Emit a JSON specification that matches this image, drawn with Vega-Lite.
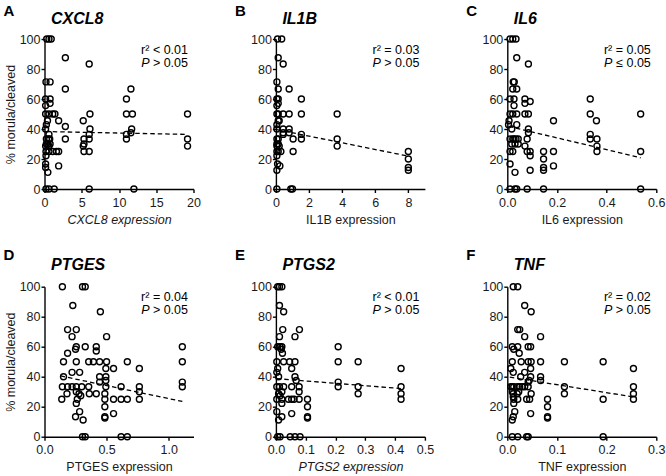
{
"$schema":"https://vega.github.io/schema/vega-lite/v6.json",
"padding":{"left":3.5,"top":3,"right":0,"bottom":0},
"config":{"view":{"stroke":null},"font":"Liberation Sans",
"axis":{"domainColor":"#000","domainWidth":1.4,"tickColor":"#000","tickWidth":1.4,"tickSize":3.5,"labelFontSize":12.5,"labelColor":"#1a1a1a","labelPadding":2,"titleFontSize":12.5,"titleFontWeight":"normal","titleColor":"#1a1a1a","grid":false,"labelOverlap":false,"labelFlush":false},
"axisX":{"titlePadding":4.5,"labelPadding":3.5},"axisY":{"titlePadding":2,"labelPadding":1},
"title":{"anchor":"start","frame":"group","dx":6.5,"baseline":"alphabetic","fontSize":16,"fontWeight":"bold","fontStyle":"italic","color":"#000"},
"point":{"shape":"circle","filled":false,"color":"#000","strokeWidth":1.4,"size":36,"opacity":1},
"line":{"color":"#000","strokeWidth":1.3,"strokeDash":[4.5,3]},
"text":{"color":"#000","baseline":"alphabetic"}},
"datasets":{
"a":[{"x":0.3,"y":100},{"x":0.6,"y":100},{"x":0.9,"y":100},{"x":0.2,"y":71.4},{"x":0.75,"y":71.4},{"x":0.15,"y":60},{"x":0.75,"y":60},{"x":0.75,"y":57.1},{"x":0.15,"y":55.6},{"x":0.15,"y":50},{"x":0.6,"y":50},{"x":1.1,"y":50},{"x":1.4,"y":50},{"x":0.4,"y":45.5},{"x":1.9,"y":45.5},{"x":0.25,"y":42.9},{"x":0.15,"y":40},{"x":0.6,"y":36.4},{"x":0.25,"y":33.3},{"x":0.55,"y":33.3},{"x":0.7,"y":33.3},{"x":0.25,"y":30},{"x":0.45,"y":30},{"x":0.75,"y":30},{"x":0.15,"y":28.6},{"x":0.6,"y":28.6},{"x":0.2,"y":25},{"x":0.6,"y":25},{"x":1.1,"y":25},{"x":1.6,"y":25},{"x":1.9,"y":25},{"x":0.2,"y":22.2},{"x":0.15,"y":16.7},{"x":0.15,"y":14.3},{"x":0.45,"y":11.1},{"x":1.9,"y":15.4},{"x":0.2,"y":0},{"x":0.6,"y":0},{"x":1.3,"y":0},{"x":2.8,"y":87.5},{"x":2.8,"y":66.7},{"x":2.8,"y":41.7},{"x":2.8,"y":33.3},{"x":5.2,"y":45.5},{"x":5.3,"y":33.3},{"x":5.3,"y":30},{"x":5.2,"y":28.6},{"x":5.3,"y":25},{"x":6.0,"y":83.3},{"x":6.1,"y":50},{"x":6.1,"y":40},{"x":6.0,"y":36.4},{"x":6.0,"y":33.3},{"x":6.0,"y":25},{"x":6.0,"y":0},{"x":11.0,"y":60},{"x":11.0,"y":50},{"x":11.0,"y":36.4},{"x":11.0,"y":33.3},{"x":11.6,"y":66.7},{"x":11.8,"y":50},{"x":11.7,"y":40},{"x":11.6,"y":37.5},{"x":12.0,"y":0},{"x":19.2,"y":50},{"x":19.2,"y":33.3},{"x":19.2,"y":28.6}],
"b":[{"x":0.1,"y":100},{"x":0.35,"y":100},{"x":0.14,"y":87.5},{"x":0.44,"y":83.3},{"x":0.06,"y":71.4},{"x":0.14,"y":66.7},{"x":0.8,"y":66.7},{"x":0.06,"y":60},{"x":0.14,"y":60},{"x":1.54,"y":60},{"x":0.14,"y":57.1},{"x":0.06,"y":55.6},{"x":0.06,"y":50},{"x":0.14,"y":50},{"x":0.44,"y":50},{"x":0.8,"y":50},{"x":1.54,"y":50},{"x":3.7,"y":50},{"x":0.14,"y":45.5},{"x":0.2,"y":45.5},{"x":0.06,"y":42.9},{"x":0.06,"y":40},{"x":0.44,"y":40},{"x":0.8,"y":40},{"x":0.44,"y":37.5},{"x":0.8,"y":37.5},{"x":0.44,"y":36.4},{"x":1.54,"y":36.4},{"x":0.06,"y":33.3},{"x":0.14,"y":33.3},{"x":1.04,"y":33.3},{"x":1.54,"y":33.3},{"x":3.7,"y":33.3},{"x":0.06,"y":30},{"x":0.14,"y":30},{"x":0.06,"y":28.6},{"x":0.2,"y":28.6},{"x":3.7,"y":28.6},{"x":0.06,"y":25},{"x":0.14,"y":25},{"x":0.3,"y":25},{"x":1.04,"y":25},{"x":8.0,"y":25},{"x":8.0,"y":20},{"x":8.0,"y":14.3},{"x":8.0,"y":12.5},{"x":0.06,"y":22.2},{"x":0.1,"y":16.7},{"x":0.24,"y":15.4},{"x":0.06,"y":12.5},{"x":0.06,"y":0},{"x":0.9,"y":0},{"x":1.0,"y":0}],
"c":[{"x":0.011,"y":100},{"x":0.022,"y":100},{"x":0.035,"y":100},{"x":0.038,"y":87.5},{"x":0.085,"y":83.3},{"x":0.024,"y":71.4},{"x":0.028,"y":71.4},{"x":0.022,"y":66.7},{"x":0.038,"y":66.7},{"x":0.011,"y":60},{"x":0.027,"y":60},{"x":0.071,"y":60},{"x":0.071,"y":57.1},{"x":0.092,"y":58.3},{"x":0.027,"y":55.6},{"x":0.011,"y":50},{"x":0.022,"y":50},{"x":0.038,"y":50},{"x":0.071,"y":50},{"x":0.085,"y":50},{"x":0.334,"y":50},{"x":0.334,"y":60},{"x":0.186,"y":45.5},{"x":0.359,"y":45.5},{"x":0.007,"y":45.5},{"x":0.005,"y":42.9},{"x":0.038,"y":42.9},{"x":0.018,"y":40},{"x":0.085,"y":40},{"x":0.085,"y":37.5},{"x":0.334,"y":36.4},{"x":0.011,"y":33.3},{"x":0.022,"y":33.3},{"x":0.027,"y":33.3},{"x":0.035,"y":33.3},{"x":0.044,"y":33.3},{"x":0.08,"y":33.3},{"x":0.334,"y":33.3},{"x":0.361,"y":33.3},{"x":0.018,"y":30},{"x":0.031,"y":30},{"x":0.044,"y":30},{"x":0.071,"y":28.6},{"x":0.361,"y":28.6},{"x":0.011,"y":25},{"x":0.022,"y":25},{"x":0.08,"y":25},{"x":0.092,"y":25},{"x":0.146,"y":25},{"x":0.186,"y":25},{"x":0.361,"y":25},{"x":0.537,"y":50},{"x":0.537,"y":25},{"x":0.537,"y":0},{"x":0.092,"y":22.2},{"x":0.146,"y":20},{"x":0.011,"y":16.7},{"x":0.186,"y":15.4},{"x":0.146,"y":14.3},{"x":0.092,"y":12.5},{"x":0.146,"y":12.5},{"x":0.031,"y":11.1},{"x":0.011,"y":0},{"x":0.031,"y":0},{"x":0.038,"y":0},{"x":0.08,"y":0},{"x":0.146,"y":0}],
"d":[{"x":0.144,"y":100},{"x":0.306,"y":100},{"x":0.328,"y":100},{"x":0.228,"y":87.5},{"x":0.45,"y":83.3},{"x":0.186,"y":71.4},{"x":0.256,"y":71.4},{"x":0.222,"y":66.7},{"x":0.5,"y":66.7},{"x":0.256,"y":60},{"x":0.328,"y":60},{"x":0.417,"y":60},{"x":1.11,"y":60},{"x":0.25,"y":58.3},{"x":0.417,"y":57.1},{"x":0.186,"y":55.6},{"x":0.153,"y":50},{"x":0.256,"y":50},{"x":0.356,"y":50},{"x":0.394,"y":50},{"x":0.444,"y":50},{"x":0.5,"y":50},{"x":0.667,"y":50},{"x":1.11,"y":50},{"x":0.494,"y":45.5},{"x":0.556,"y":45.5},{"x":0.764,"y":45.5},{"x":0.222,"y":42.9},{"x":0.283,"y":42.9},{"x":0.153,"y":40},{"x":0.444,"y":40},{"x":0.494,"y":40},{"x":0.494,"y":37.5},{"x":0.444,"y":36.4},{"x":1.11,"y":36.4},{"x":0.144,"y":33.3},{"x":0.186,"y":33.3},{"x":0.222,"y":33.3},{"x":0.256,"y":33.3},{"x":0.3,"y":33.3},{"x":0.356,"y":33.3},{"x":0.494,"y":33.3},{"x":0.617,"y":33.3},{"x":0.764,"y":33.3},{"x":1.11,"y":33.3},{"x":0.256,"y":30},{"x":0.764,"y":30},{"x":0.181,"y":28.6},{"x":0.278,"y":28.6},{"x":0.361,"y":28.6},{"x":0.417,"y":28.6},{"x":0.486,"y":28.6},{"x":0.292,"y":27.3},{"x":0.139,"y":25},{"x":0.264,"y":25},{"x":0.486,"y":25},{"x":0.556,"y":25},{"x":0.617,"y":25},{"x":0.667,"y":25},{"x":0.764,"y":25},{"x":0.256,"y":22.2},{"x":0.486,"y":20},{"x":0.283,"y":16.7},{"x":0.556,"y":15.4},{"x":0.25,"y":13.3},{"x":0.486,"y":13.3},{"x":0.486,"y":12.5},{"x":0.311,"y":11.1},{"x":0.306,"y":0},{"x":0.328,"y":0},{"x":0.617,"y":0},{"x":0.667,"y":0}],
"e":[{"x":0.006,"y":100},{"x":0.012,"y":100},{"x":0.02,"y":100},{"x":0.012,"y":87.5},{"x":0.026,"y":83.3},{"x":0.023,"y":71.4},{"x":0.079,"y":71.4},{"x":0.012,"y":66.7},{"x":0.064,"y":66.7},{"x":0.006,"y":60},{"x":0.014,"y":60},{"x":0.02,"y":60},{"x":0.209,"y":60},{"x":0.018,"y":58.3},{"x":0.022,"y":55.6},{"x":0.003,"y":50},{"x":0.026,"y":50},{"x":0.046,"y":50},{"x":0.064,"y":50},{"x":0.209,"y":50},{"x":0.276,"y":50},{"x":0.006,"y":45.5},{"x":0.053,"y":45.5},{"x":0.42,"y":45.5},{"x":0.003,"y":42.9},{"x":0.009,"y":40},{"x":0.064,"y":40},{"x":0.068,"y":37.5},{"x":0.209,"y":36.4},{"x":0.003,"y":33.3},{"x":0.012,"y":33.3},{"x":0.026,"y":33.3},{"x":0.053,"y":33.3},{"x":0.078,"y":33.3},{"x":0.209,"y":33.3},{"x":0.276,"y":33.3},{"x":0.42,"y":33.3},{"x":0.02,"y":30},{"x":0.078,"y":30},{"x":0.009,"y":28.6},{"x":0.276,"y":28.6},{"x":0.42,"y":28.6},{"x":0.014,"y":27.3},{"x":0.003,"y":25},{"x":0.02,"y":25},{"x":0.042,"y":25},{"x":0.053,"y":25},{"x":0.061,"y":25},{"x":0.078,"y":25},{"x":0.106,"y":25},{"x":0.42,"y":25},{"x":0.02,"y":22.2},{"x":0.106,"y":20},{"x":0.003,"y":16.7},{"x":0.053,"y":15.4},{"x":0.02,"y":13.3},{"x":0.106,"y":13.3},{"x":0.106,"y":12.5},{"x":0.009,"y":11.1},{"x":0.006,"y":0},{"x":0.014,"y":0},{"x":0.048,"y":0},{"x":0.064,"y":0},{"x":0.081,"y":0}],
"f":[{"x":0.012,"y":100},{"x":0.021,"y":100},{"x":0.035,"y":87.5},{"x":0.048,"y":83.3},{"x":0.021,"y":71.4},{"x":0.025,"y":71.4},{"x":0.035,"y":66.7},{"x":0.067,"y":66.7},{"x":0.01,"y":60},{"x":0.021,"y":60},{"x":0.042,"y":60},{"x":0.047,"y":60},{"x":0.013,"y":58.3},{"x":0.024,"y":55.6},{"x":0.01,"y":50},{"x":0.028,"y":50},{"x":0.042,"y":50},{"x":0.048,"y":50},{"x":0.067,"y":50},{"x":0.115,"y":50},{"x":0.193,"y":50},{"x":0.007,"y":45.5},{"x":0.047,"y":45.5},{"x":0.254,"y":45.5},{"x":0.012,"y":42.9},{"x":0.035,"y":42.9},{"x":0.027,"y":40},{"x":0.047,"y":40},{"x":0.067,"y":40},{"x":0.067,"y":37.5},{"x":0.044,"y":37.5},{"x":0.042,"y":36.4},{"x":0.007,"y":33.3},{"x":0.01,"y":33.3},{"x":0.013,"y":33.3},{"x":0.02,"y":33.3},{"x":0.025,"y":33.3},{"x":0.03,"y":33.3},{"x":0.035,"y":33.3},{"x":0.042,"y":33.3},{"x":0.115,"y":33.3},{"x":0.254,"y":33.3},{"x":0.01,"y":30},{"x":0.023,"y":30},{"x":0.012,"y":28.6},{"x":0.02,"y":28.6},{"x":0.048,"y":28.6},{"x":0.115,"y":28.6},{"x":0.254,"y":28.6},{"x":0.012,"y":26.7},{"x":0.013,"y":25},{"x":0.021,"y":25},{"x":0.039,"y":25},{"x":0.045,"y":25},{"x":0.081,"y":25},{"x":0.193,"y":25},{"x":0.254,"y":25},{"x":0.013,"y":22.2},{"x":0.081,"y":20},{"x":0.015,"y":16.7},{"x":0.047,"y":15.4},{"x":0.012,"y":13.3},{"x":0.081,"y":13.3},{"x":0.081,"y":12.5},{"x":0.01,"y":11.1},{"x":0.01,"y":0},{"x":0.021,"y":0},{"x":0.039,"y":0},{"x":0.042,"y":0},{"x":0.193,"y":0}],
"a_fit":[{"x":0.1,"y":38.3},{"x":19.2,"y":36.4}],
"b_fit":[{"x":0.05,"y":39.6},{"x":8,"y":21.9}],
"c_fit":[{"x":0.005,"y":41.8},{"x":0.537,"y":20.8}],
"d_fit":[{"x":0.13,"y":40.5},{"x":1.11,"y":23.5}],
"e_fit":[{"x":0.003,"y":38.7},{"x":0.42,"y":32.1}],
"f_fit":[{"x":0.005,"y":39.7},{"x":0.254,"y":26.5}],
"notes":[{"panel":"A","letter":"A","r2":"r² < 0.01","p":"> 0.05"},{"panel":"B","letter":"B","r2":"r² = 0.03","p":"> 0.05"},{"panel":"C","letter":"C","r2":"r² = 0.05","p":"≤ 0.05"},{"panel":"D","letter":"D","r2":"r² = 0.04","p":"> 0.05"},{"panel":"E","letter":"E","r2":"r² < 0.01","p":"> 0.05"},{"panel":"F","letter":"F","r2":"r² = 0.02","p":"> 0.05"}]
},
"columns":3,
"spacing":{"row":97.7,"column":82.4},
"bounds":"flush",
"concat":[
{"width":149,"height":150,"title":{"text":"CXCL8","offset":-23},"layer":[
 {"data":{"name":"a"},"mark":"point","encoding":{"x":{"field":"x","type":"quantitative","scale":{"domain":[0,20],"nice":false},"axis":{"values":[0,5,10,15,20],"labelOverlap":false,"labelFlush":false,"title":"CXCL8 expression","titleFontStyle":"italic"}},"y":{"field":"y","type":"quantitative","scale":{"domain":[0,100],"nice":false},"axis":{"values":[0,20,40,60,80,100],"labelOverlap":false,"labelFlush":false,"title":"% morula/cleaved"}}}},
 {"data":{"name":"a_fit"},"mark":"line","encoding":{"x":{"field":"x","type":"quantitative","axis":{"values":[0,5,10,15,20],"labelOverlap":false,"labelFlush":false,"title":"CXCL8 expression","titleFontStyle":"italic"}},"y":{"field":"y","type":"quantitative","axis":{"values":[0,20,40,60,80,100],"labelOverlap":false,"labelFlush":false,"title":"% morula/cleaved"}}}},
 {"data":{"name":"notes"},"transform":[{"filter":"datum.panel === 'A'"}],"encoding":{"x":{"datum":20,"type":"quantitative","axis":{"values":[0,5,10,15,20],"labelOverlap":false,"labelFlush":false,"title":"CXCL8 expression","titleFontStyle":"italic"}},"y":{"datum":100,"type":"quantitative","axis":{"values":[0,20,40,60,80,100],"labelOverlap":false,"labelFlush":false,"title":"% morula/cleaved"}}},"layer":[
  {"mark":{"type":"text","align":"left","dx":-190,"dy":-23.3,"fontSize":15,"fontWeight":"bold"},"encoding":{"text":{"field":"letter"}}},
  {"mark":{"type":"text","align":"right","dx":-5.5,"dy":14.5,"fontSize":12.5},"encoding":{"text":{"field":"r2"}}},
  {"mark":{"type":"text","align":"right","dx":-5.5,"dy":27.5,"fontSize":12.5},"encoding":{"text":{"field":"p"}}},
  {"mark":{"type":"text","text":"P","fontStyle":"italic","align":"right","dx":-44,"dy":27.5,"fontSize":12.5}}
 ]}
]},
{"width":149,"height":150,"title":{"text":"IL1B","offset":-23},"layer":[
 {"data":{"name":"b"},"mark":"point","encoding":{"x":{"field":"x","type":"quantitative","scale":{"domain":[0,9],"nice":false},"axis":{"values":[0,2,4,6,8],"labelOverlap":false,"labelFlush":false,"title":"IL1B expression"}},"y":{"field":"y","type":"quantitative","scale":{"domain":[0,100],"nice":false},"axis":{"values":[0,20,40,60,80,100],"labelOverlap":false,"labelFlush":false,"title":null}}}},
 {"data":{"name":"b_fit"},"mark":"line","encoding":{"x":{"field":"x","type":"quantitative","axis":{"values":[0,2,4,6,8],"labelOverlap":false,"labelFlush":false,"title":"IL1B expression"}},"y":{"field":"y","type":"quantitative","axis":{"values":[0,20,40,60,80,100],"labelOverlap":false,"labelFlush":false,"title":null}}}},
 {"data":{"name":"notes"},"transform":[{"filter":"datum.panel === 'B'"}],"encoding":{"x":{"datum":9,"type":"quantitative","axis":{"values":[0,2,4,6,8],"labelOverlap":false,"labelFlush":false,"title":"IL1B expression"}},"y":{"datum":100,"type":"quantitative","axis":{"values":[0,20,40,60,80,100],"labelOverlap":false,"labelFlush":false,"title":null}}},"layer":[
  {"mark":{"type":"text","align":"left","dx":-190,"dy":-23.3,"fontSize":15,"fontWeight":"bold"},"encoding":{"text":{"field":"letter"}}},
  {"mark":{"type":"text","align":"right","dx":-5.5,"dy":14.5,"fontSize":12.5},"encoding":{"text":{"field":"r2"}}},
  {"mark":{"type":"text","align":"right","dx":-5.5,"dy":27.5,"fontSize":12.5},"encoding":{"text":{"field":"p"}}},
  {"mark":{"type":"text","text":"P","fontStyle":"italic","align":"right","dx":-44,"dy":27.5,"fontSize":12.5}}
 ]}
]},
{"width":149,"height":150,"title":{"text":"IL6","offset":-23},"layer":[
 {"data":{"name":"c"},"mark":"point","encoding":{"x":{"field":"x","type":"quantitative","scale":{"domain":[0,0.6],"nice":false},"axis":{"values":[0,0.2,0.4,0.6],"format":".1f","labelOverlap":false,"labelFlush":false,"title":"IL6 expression"}},"y":{"field":"y","type":"quantitative","scale":{"domain":[0,100],"nice":false},"axis":{"values":[0,20,40,60,80,100],"labelOverlap":false,"labelFlush":false,"title":null}}}},
 {"data":{"name":"c_fit"},"mark":"line","encoding":{"x":{"field":"x","type":"quantitative","axis":{"values":[0,0.2,0.4,0.6],"format":".1f","labelOverlap":false,"labelFlush":false,"title":"IL6 expression"}},"y":{"field":"y","type":"quantitative","axis":{"values":[0,20,40,60,80,100],"labelOverlap":false,"labelFlush":false,"title":null}}}},
 {"data":{"name":"notes"},"transform":[{"filter":"datum.panel === 'C'"}],"encoding":{"x":{"datum":0.6,"type":"quantitative","axis":{"values":[0,0.2,0.4,0.6],"format":".1f","labelOverlap":false,"labelFlush":false,"title":"IL6 expression"}},"y":{"datum":100,"type":"quantitative","axis":{"values":[0,20,40,60,80,100],"labelOverlap":false,"labelFlush":false,"title":null}}},"layer":[
  {"mark":{"type":"text","align":"left","dx":-190,"dy":-23.3,"fontSize":15,"fontWeight":"bold"},"encoding":{"text":{"field":"letter"}}},
  {"mark":{"type":"text","align":"right","dx":-5.5,"dy":14.5,"fontSize":12.5},"encoding":{"text":{"field":"r2"}}},
  {"mark":{"type":"text","align":"right","dx":-5.5,"dy":27.5,"fontSize":12.5},"encoding":{"text":{"field":"p"}}},
  {"mark":{"type":"text","text":"P","fontStyle":"italic","align":"right","dx":-44,"dy":27.5,"fontSize":12.5}}
 ]}
]},
{"width":149,"height":150,"title":{"text":"PTGES","offset":-25.2},"layer":[
 {"data":{"name":"d"},"mark":"point","encoding":{"x":{"field":"x","type":"quantitative","scale":{"domain":[0,1.2],"nice":false},"axis":{"values":[0,0.5,1.0],"format":".1f","labelOverlap":false,"labelFlush":false,"title":"PTGES expression"}},"y":{"field":"y","type":"quantitative","scale":{"domain":[0,100],"nice":false},"axis":{"values":[0,20,40,60,80,100],"labelOverlap":false,"labelFlush":false,"title":"% morula/cleaved"}}}},
 {"data":{"name":"d_fit"},"mark":"line","encoding":{"x":{"field":"x","type":"quantitative","axis":{"values":[0,0.5,1.0],"format":".1f","labelOverlap":false,"labelFlush":false,"title":"PTGES expression"}},"y":{"field":"y","type":"quantitative","axis":{"values":[0,20,40,60,80,100],"labelOverlap":false,"labelFlush":false,"title":"% morula/cleaved"}}}},
 {"data":{"name":"notes"},"transform":[{"filter":"datum.panel === 'D'"}],"encoding":{"x":{"datum":1.2,"type":"quantitative","axis":{"values":[0,0.5,1.0],"format":".1f","labelOverlap":false,"labelFlush":false,"title":"PTGES expression"}},"y":{"datum":100,"type":"quantitative","axis":{"values":[0,20,40,60,80,100],"labelOverlap":false,"labelFlush":false,"title":"% morula/cleaved"}}},"layer":[
  {"mark":{"type":"text","align":"left","dx":-190,"dy":-26.5,"fontSize":15,"fontWeight":"bold"},"encoding":{"text":{"field":"letter"}}},
  {"mark":{"type":"text","align":"right","dx":-5.5,"dy":14,"fontSize":12.5},"encoding":{"text":{"field":"r2"}}},
  {"mark":{"type":"text","align":"right","dx":-5.5,"dy":27,"fontSize":12.5},"encoding":{"text":{"field":"p"}}},
  {"mark":{"type":"text","text":"P","fontStyle":"italic","align":"right","dx":-44,"dy":27,"fontSize":12.5}}
 ]}
]},
{"width":149,"height":150,"title":{"text":"PTGS2","offset":-25.2},"layer":[
 {"data":{"name":"e"},"mark":"point","encoding":{"x":{"field":"x","type":"quantitative","scale":{"domain":[0,0.5],"nice":false},"axis":{"values":[0,0.1,0.2,0.3,0.4,0.5],"format":".1f","labelOverlap":false,"labelFlush":false,"title":"PTGS2 expression","titleFontStyle":"italic"}},"y":{"field":"y","type":"quantitative","scale":{"domain":[0,100],"nice":false},"axis":{"values":[0,20,40,60,80,100],"labelOverlap":false,"labelFlush":false,"title":null}}}},
 {"data":{"name":"e_fit"},"mark":"line","encoding":{"x":{"field":"x","type":"quantitative","axis":{"values":[0,0.1,0.2,0.3,0.4,0.5],"format":".1f","labelOverlap":false,"labelFlush":false,"title":"PTGS2 expression","titleFontStyle":"italic"}},"y":{"field":"y","type":"quantitative","axis":{"values":[0,20,40,60,80,100],"labelOverlap":false,"labelFlush":false,"title":null}}}},
 {"data":{"name":"notes"},"transform":[{"filter":"datum.panel === 'E'"}],"encoding":{"x":{"datum":0.5,"type":"quantitative","axis":{"values":[0,0.1,0.2,0.3,0.4,0.5],"format":".1f","labelOverlap":false,"labelFlush":false,"title":"PTGS2 expression","titleFontStyle":"italic"}},"y":{"datum":100,"type":"quantitative","axis":{"values":[0,20,40,60,80,100],"labelOverlap":false,"labelFlush":false,"title":null}}},"layer":[
  {"mark":{"type":"text","align":"left","dx":-190,"dy":-26.5,"fontSize":15,"fontWeight":"bold"},"encoding":{"text":{"field":"letter"}}},
  {"mark":{"type":"text","align":"right","dx":-5.5,"dy":14,"fontSize":12.5},"encoding":{"text":{"field":"r2"}}},
  {"mark":{"type":"text","align":"right","dx":-5.5,"dy":27,"fontSize":12.5},"encoding":{"text":{"field":"p"}}},
  {"mark":{"type":"text","text":"P","fontStyle":"italic","align":"right","dx":-44,"dy":27,"fontSize":12.5}}
 ]}
]},
{"width":149,"height":150,"title":{"text":"TNF","offset":-25.2},"layer":[
 {"data":{"name":"f"},"mark":"point","encoding":{"x":{"field":"x","type":"quantitative","scale":{"domain":[0,0.3],"nice":false},"axis":{"values":[0,0.1,0.2,0.3],"format":".1f","labelOverlap":false,"labelFlush":false,"title":"TNF expression"}},"y":{"field":"y","type":"quantitative","scale":{"domain":[0,100],"nice":false},"axis":{"values":[0,20,40,60,80,100],"labelOverlap":false,"labelFlush":false,"title":null}}}},
 {"data":{"name":"f_fit"},"mark":"line","encoding":{"x":{"field":"x","type":"quantitative","axis":{"values":[0,0.1,0.2,0.3],"format":".1f","labelOverlap":false,"labelFlush":false,"title":"TNF expression"}},"y":{"field":"y","type":"quantitative","axis":{"values":[0,20,40,60,80,100],"labelOverlap":false,"labelFlush":false,"title":null}}}},
 {"data":{"name":"notes"},"transform":[{"filter":"datum.panel === 'F'"}],"encoding":{"x":{"datum":0.3,"type":"quantitative","axis":{"values":[0,0.1,0.2,0.3],"format":".1f","labelOverlap":false,"labelFlush":false,"title":"TNF expression"}},"y":{"datum":100,"type":"quantitative","axis":{"values":[0,20,40,60,80,100],"labelOverlap":false,"labelFlush":false,"title":null}}},"layer":[
  {"mark":{"type":"text","align":"left","dx":-190,"dy":-26.5,"fontSize":15,"fontWeight":"bold"},"encoding":{"text":{"field":"letter"}}},
  {"mark":{"type":"text","align":"right","dx":-5.5,"dy":14,"fontSize":12.5},"encoding":{"text":{"field":"r2"}}},
  {"mark":{"type":"text","align":"right","dx":-5.5,"dy":27,"fontSize":12.5},"encoding":{"text":{"field":"p"}}},
  {"mark":{"type":"text","text":"P","fontStyle":"italic","align":"right","dx":-44,"dy":27,"fontSize":12.5}}
 ]}
]}
]
}
